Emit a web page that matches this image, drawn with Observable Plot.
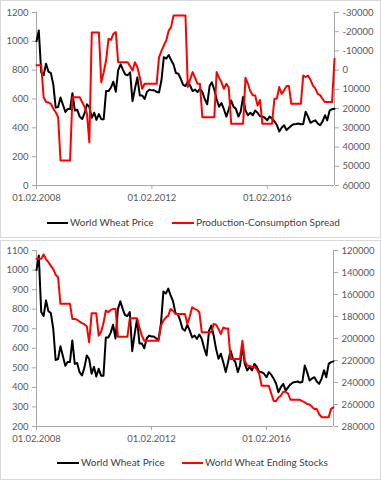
<!DOCTYPE html>
<html>
<head>
<meta charset="utf-8">
<script src="https://cdn.jsdelivr.net/npm/d3@7"></script>
<script src="https://cdn.jsdelivr.net/npm/@observablehq/plot@0.6"></script>
<style>
  html, body { margin: 0; padding: 0; background: #fff; }
  #root { position: relative; width: 381px; height: 480px; overflow: hidden; font-family: Lato, sans-serif; }
  .frame { position: absolute; left: 0; width: 381px; box-sizing: border-box; border: 1px solid #d9d9d9; }
  .chart { position: absolute; left: 0; }
  .legend { position: absolute; left: 0; width: 381px; height: 14px; font-size: 10px; color: #404040; }
  .item { position: absolute; top: 0; height: 14px; line-height: 14px; white-space: nowrap; }
  .sw { display: inline-block; vertical-align: middle; height: 2px; margin-right: 2px; }
</style>
</head>
<body>
<div id="root">
  <div class="frame" style="top:0;height:238px"></div>
  <div class="frame" style="top:240px;height:240px"></div>
  <div id="c1" class="chart" style="top:0"></div>
  <div id="c2" class="chart" style="top:240px"></div>
  <div id="l1" class="legend" style="top:215px"></div>
  <div id="l2" class="legend" style="top:455px"></div>
</div>
<script>
// ---- data (monthly, Feb 2008 .. Jun 2018) ----
const startMonth = "2008-02-01";
const endMonth = "2018-06-01";

const worldWheatPrice = [
  1000,1075,785,765,845,790,780,700,540,545,610,560,510,530,530,640,520,525,478,461,
  500,563,545,470,505,455,495,460,460,655,655,680,720,650,800,840,800,770,765,785,
  585,670,750,625,625,600,650,665,660,660,650,645,730,890,880,905,870,840,780,775,
  740,700,690,720,690,655,665,648,670,648,600,563,690,716,665,597,546,572,529,478,
  529,589,546,530,478,512,614,520,487,505,487,520,505,480,478,470,452,478,465,445,
  420,375,401,418,384,400,415,425,427,430,425,427,512,478,435,445,452,430,418,445,
  487,452,520,529,533
];

const productionConsumptionSpread = [
  -2500,-2500,-2500,14100,16600,16800,17500,20100,21900,24500,47000,47000,47000,47000,47000,
  14100,14100,14100,14100,16600,19000,22700,37500,-19600,-19600,-19600,-19600,6300,1100,-5000,
  -16300,-15800,-18900,-19800,-4100,-4100,-4100,-4100,-4100,-2000,200,-4100,-1500,3700,9700,
  7100,7100,7100,7100,7100,7100,-6700,-10000,-12800,-15400,-20600,-22400,-28400,-28400,-28400,
  -28400,-28400,-28400,8800,4500,1000,4000,7100,7100,24500,24500,24500,24500,24500,24500,
  1000,4000,6300,9700,7100,9000,27900,27900,27900,27900,27900,27900,3900,7100,11000,
  13000,13200,18400,15500,27900,27900,27900,27900,27900,14900,14900,8800,12300,10500,8300,
  8300,17500,17500,17500,17500,17500,2800,3500,2800,5000,8000,9500,12300,13000,15000,
  16600,16600,16600,16600,-5900
];

const worldWheatEndingStocks = [
  127600,127600,127600,123600,128000,130500,134000,137000,142000,144300,168500,168500,168500,168500,168500,
  182200,182200,183000,184600,186000,187000,189000,203500,177100,177100,177100,197400,194000,186000,174600,
  176000,174000,173100,173100,198300,198300,198300,198300,198300,181600,181600,181600,181600,190000,197400,
  202000,202000,202000,202000,202000,202000,202000,188300,183700,181000,179200,173100,175000,177700,177700,
  177700,177700,177700,186700,180000,171600,173000,174000,176200,194400,194400,194400,194400,194400,186700,
  187500,191300,195900,190000,191000,191000,218600,218600,218600,218600,218600,202000,220200,224700,224700,
  226000,226000,228000,232300,243000,243000,243000,243000,250000,256600,257000,253600,252000,248400,248400,
  250000,255700,255700,255700,255700,255700,257000,258000,259600,260000,262000,264200,264200,268700,271500,
  271500,271500,271500,264000,262500
];

const xTickDates = ["2008-02-01", "2012-02-01", "2016-02-01"];
const priceTicks1 = [0, 200, 400, 600, 800, 1000, 1200];
const spreadTicks = [-30000, -20000, -10000, 0, 10000, 20000, 30000, 40000, 50000, 60000];
const priceTicks2 = [200, 300, 400, 500, 600, 700, 800, 900, 1000, 1100];
const stocksTicks = [120000, 140000, 160000, 180000, 200000, 220000, 240000, 260000, 280000];

const legend1 = ["World Wheat Price", "Production-Consumption Spread"];
const legend2 = ["World Wheat Price", "World Wheat Ending Stocks"];

// ---- build ----
const x0 = new Date(startMonth + "T00:00:00Z");
const x1 = new Date(endMonth + "T00:00:00Z");
const months = d3.utcMonth.range(x0, d3.utcMonth.offset(x1, 1));
const table = months.map((date, i) => ({
  date,
  price: worldWheatPrice[i],
  spread: productionConsumptionSpread[i],
  stocks: worldWheatEndingStocks[i]
}));
const xTicks = xTickDates.map(d => new Date(d + "T00:00:00Z"));

const axisColor = "#a6a6a6";
const textColor = "#595959";
const fmtDate = d3.utcFormat("%d.%m.%Y");

// secondary axes mapped into primary-axis units (reversed)
const s2y = d3.scaleLinear().domain([60000, -30000]).range([0, 1200]);
const k2y = d3.scaleLinear().domain([280000, 120000]).range([200, 1100]);

function panel({height, mt, mb, mr, yDomain, leftTicks, rightTicks, r2y, rightKey}) {
  return Plot.plot({
    width: 381,
    height,
    marginLeft: 36,
    marginRight: mr,
    marginTop: mt,
    marginBottom: mb,
    style: {fontFamily: "Lato, sans-serif", fontSize: "9.5px", background: "transparent", overflow: "visible"},
    x: {type: "utc", domain: [x0, x1]},
    y: {domain: yDomain},
    marks: [
      Plot.ruleX([x0], {stroke: axisColor}),
      Plot.ruleX([x1], {stroke: axisColor}),
      Plot.ruleY([yDomain[0]], {stroke: axisColor}),
      Plot.axisY(leftTicks, {anchor: "left", tickSize: 4, tickPadding: 4, label: null,
        tickFormat: d => String(d), stroke: axisColor, fill: textColor}),
      Plot.axisY(rightTicks.map(r2y), {anchor: "right", tickSize: 4, tickPadding: 4, label: null,
        tickFormat: d => String(Math.round(r2y.invert(d))), stroke: axisColor, fill: textColor}),
      Plot.axisX(xTicks, {anchor: "bottom", tickSize: 4, tickPadding: 5, label: null,
        tickFormat: fmtDate, stroke: axisColor, fill: textColor}),
      Plot.lineY(table, {x: "date", y: "price", stroke: "#000000", strokeWidth: 2, strokeLinejoin: "round"}),
      Plot.lineY(table, {x: "date", y: d => r2y(d[rightKey]), stroke: "#ff0000", strokeWidth: 2, strokeLinejoin: "round"})
    ]
  });
}

document.getElementById("c1").appendChild(panel({
  height: 210, mt: 12, mb: 25, mr: 47, yDomain: [0, 1200],
  leftTicks: priceTicks1, rightTicks: spreadTicks, r2y: s2y, rightKey: "spread"
}));
document.getElementById("c2").appendChild(panel({
  height: 212, mt: 10, mb: 26, mr: 48, yDomain: [200, 1100],
  leftTicks: priceTicks2, rightTicks: stocksTicks, r2y: k2y, rightKey: "stocks"
}));

function legend(id, labels, positions) {
  const el = document.getElementById(id);
  const colors = ["#000000", "#ff0000"];
  labels.forEach((t, i) => {
    const d = document.createElement("div");
    d.className = "item";
    d.style.left = positions[i][0] + "px";
    d.innerHTML = `<span class="sw" style="width:${positions[i][1]}px;background:${colors[i]}"></span>${t}`;
    el.appendChild(d);
  });
}
legend("l1", legend1, [[47, 21], [172, 22]]);
legend("l2", legend2, [[57, 22], [182, 21]]);
</script>
</body>
</html>
